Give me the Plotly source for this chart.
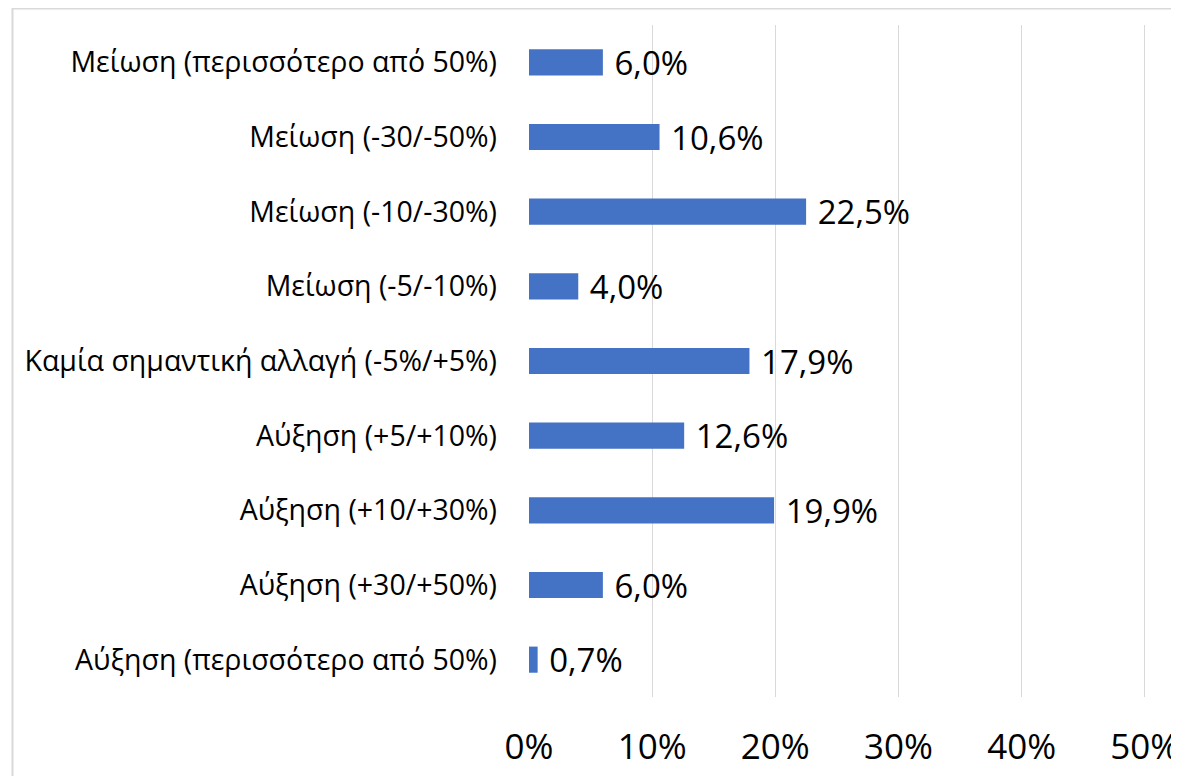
import plotly.graph_objects as go

categories = [
    "Μείωση (περισσότερο από 50%)",
    "Μείωση (-30/-50%)",
    "Μείωση (-10/-30%)",
    "Μείωση (-5/-10%)",
    "Καμία σημαντική αλλαγή (-5%/+5%)",
    "Αύξηση (+5/+10%)",
    "Αύξηση (+10/+30%)",
    "Αύξηση (+30/+50%)",
    "Αύξηση (περισσότερο από 50%)",
]
values = [6.0, 10.6, 22.5, 4.0, 17.9, 12.6, 19.9, 6.0, 0.7]
x_ticks = [0, 10, 20, 30, 40, 50]
x_tick_labels = ["0%", "10%", "20%", "30%", "40%", "50%"]

FONT = "Open Sans"

# page body has an 8px margin; figure is sized/offset to compensate
W, H = 1171, 768
L, T = 521, 17
PW, PH = 617, 672

fig = go.Figure(
    go.Bar(
        x=values,
        y=categories,
        orientation="h",
        marker=dict(color="#4472C4", line=dict(width=0)),
        texttemplate=" %{x:.1f}%",
        textposition="outside",
        constraintext="none",
        textfont=dict(family=FONT, size=33, color="#000000"),
        cliponaxis=False,
        width=0.35,
    )
)

fig.update_layout(
    width=W,
    height=H,
    margin=dict(l=L, r=W - L - PW, t=T, b=H - T - PH, autoexpand=False),
    paper_bgcolor="white",
    plot_bgcolor="white",
    separators=",.",
    showlegend=False,
    font=dict(family=FONT, color="#000000"),
    xaxis=dict(
        range=[0, 50.1],
        tickvals=x_ticks,
        ticktext=x_tick_labels,
        showgrid=True,
        gridcolor="#d9d9d9",
        gridwidth=1,
        zeroline=False,
        showline=False,
        ticks="",
        tickfont=dict(family=FONT, size=35, color="#000000"),
        ticklabelstandoff=26,
        ticklabeloverflow="allow",
        fixedrange=True,
        automargin=False,
    ),
    yaxis=dict(
        autorange="reversed",
        showgrid=False,
        showline=False,
        ticks="",
        tickfont=dict(family=FONT, size=28.5, color="#000000"),
        ticklabelstandoff=31,
        fixedrange=True,
        automargin=False,
    ),
    shapes=[
        dict(
            type="rect",
            xref="paper",
            yref="paper",
            x0=(4.5 - L) / PW,
            x1=2,
            y0=-1,
            y1=(T + PH - 0.5) / PH,
            line=dict(color="#d9d9d9", width=2),
            fillcolor="rgba(0,0,0,0)",
            layer="below",
        )
    ],
)

fig.write_html("out.html")
